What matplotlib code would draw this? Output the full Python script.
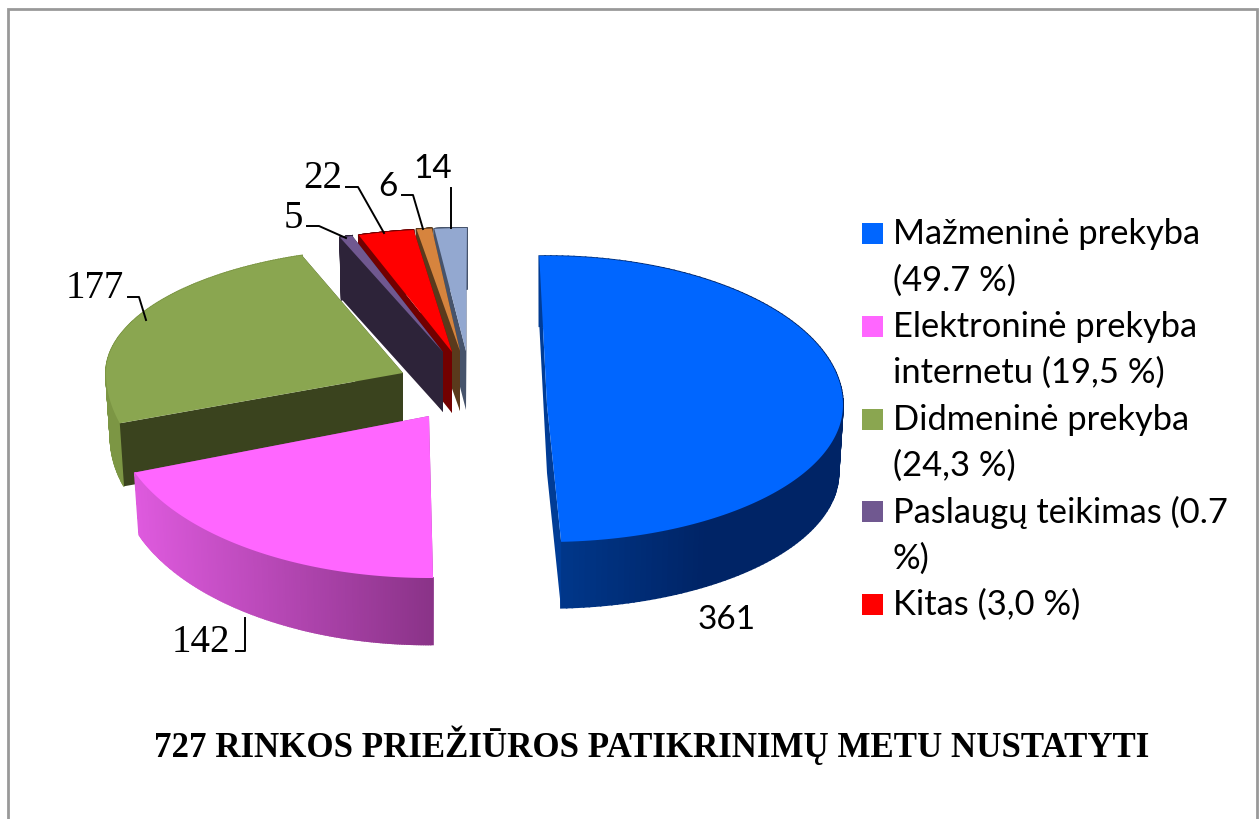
import matplotlib
matplotlib.use("Agg")
import matplotlib.pyplot as plt
import numpy as np

# chart data
slice_values = [361, 142, 177, 5, 22, 6, 14]
slice_labels = ["361", "142", "177", "5", "22", "6", "14"]
legend_lines = ["Mažmeninė prekyba", "(49.7 %)", "Elektroninė prekyba", "internetu (19,5 %)",
                "Didmeninė prekyba", "(24,3 %)", "Paslaugų teikimas (0.7", "%)", "Kitas (3,0 %)"]
title_text = "727 RINKOS PRIEŽIŪROS PATIKRINIMŲ METU NUSTATYTI"

# look of the slices
top_colors = ["#0066FF", "#FF66FF", "#8AA650", "#705890", "#FF0000", "#D6843E", "#93A8D0"]
face_colors = ["#003C96", "#A040A0", "#3A431E", "#2D2339", "#720000", "#5A3A1C", "#46536B"]
side_left = ["#003A90", "#DE5ADE", "#7C9644", "#2D2339", "#720000", "#5A3A1C", "#46536B"]
side_right = ["#002466", "#8A3388", "#7C9644", "#2D2339", "#720000", "#5A3A1C", "#46536B"]

# exploded pie layout, in pixels
apex_x = [547, 429, 403, 443, 452, 460, 466]
apex_y = [405, 416, 373, 352, 352, 351, 351]
radius_x = [296, 314, 297, 297, 297, 297, 270]
radius_back = [149, 140, 125, 122, 123, 123, 123]
radius_front = [137, 162, 167, 160, 160, 160, 160]
angle_shift = [-0.5, -2.5, -5.4, -5, -4.5, -3.5, -2.2]
depth = [68, 60, 64, 60, 61, 60, 59]
shrink_y = [0.985, 1.04, 0.98, 0.985, 0.985, 0.985, 0.985]
shrink_x = 0.985
draw_order = [2, 1, 6, 5, 4, 3, 0]
walls_over_faces = [False, True, False, False, False, False, False]
start_angle = 92

# legend swatches follow the first five slices
legend_rows = [0, None, 1, None, 2, None, 3, None, 4]


def rim(i, t):
    rad = np.radians(t)
    s = np.sin(rad)
    dy = np.where(s > 0, radius_back[i], radius_front[i]) * s
    return radius_x[i] * np.cos(rad), -dy


def draw_face(ax, i, t, z):
    dx, dy = rim(i, t)
    x0, y0 = apex_x[i], apex_y[i]
    ax.fill([x0, x0 + dx, x0 + dx * shrink_x, x0],
            [y0, y0 + dy, y0 + dy * shrink_y[i] + depth[i], y0 + depth[i]],
            color=face_colors[i], lw=0, zorder=z)


def mix(c1, c2, f):
    a = np.array(matplotlib.colors.to_rgb(c1))
    b = np.array(matplotlib.colors.to_rgb(c2))
    return a + (b - a) * f


def draw_wall(ax, i, dx, dy, z):
    # curved outer wall, a strip per step so the shading can run across it
    xmin, xmax = apex_x[i] + dx.min(), apex_x[i] + dx.max()
    for k in range(len(dx) - 1):
        f = ((apex_x[i] + dx[k]) - xmin) / max(xmax - xmin, 1)
        if i == 0:
            f = min(f / 0.55, 1)
        xs = apex_x[i] + np.array([dx[k], dx[k + 1], dx[k + 1] * shrink_x, dx[k] * shrink_x])
        ys = apex_y[i] + np.array([dy[k], dy[k + 1], dy[k + 1] * shrink_y[i] + depth[i], dy[k] * shrink_y[i] + depth[i]])
        ax.fill(xs, ys, color=mix(side_left[i], side_right[i], f), lw=1.2, zorder=z)


fig = plt.figure(figsize=(12.59, 8.19), dpi=100)
ax = fig.add_axes([0, 0, 1, 1])
ax.set_xlim(0, 1259)
ax.set_ylim(819, 0)
ax.axis("off")

# page frame
ax.plot([8.5, 8.5, 1257, 1257], [830, 8.5, 8.5, 830], color="#999999", lw=2, solid_joinstyle="miter")

sweeps = np.array(slice_values) / sum(slice_values) * 360
starts = start_angle - np.concatenate([[0], np.cumsum(sweeps)[:-1]])
z = 2
for i in draw_order:
    t0 = starts[i] + angle_shift[i]
    t1 = t0 - sweeps[i]
    ts = np.linspace(t0, t1, 160)
    dx, dy = rim(i, ts)
    if not walls_over_faces[i]:
        draw_wall(ax, i, dx, dy, z)
    draw_face(ax, i, t1, z + 1)
    draw_face(ax, i, t0, z + 2)
    if walls_over_faces[i]:
        draw_wall(ax, i, dx, dy, z + 3)
    ax.fill(np.r_[apex_x[i], apex_x[i] + dx], np.r_[apex_y[i], apex_y[i] + dy],
            color=top_colors[i], lw=0, zorder=z + 4)
    z += 5

# value labels and leader lines
serif = "Liberation Serif"
sans = "Lato"
label_xy = [(727, 620), (201, 643), (95, 288), (293, 218), (323, 179), (388, 187), (433, 169)]
label_font = [sans, serif, serif, serif, serif, sans, sans]
leaders = [None,
           [(236, 651), (245, 651), (245, 618)],
           [(128, 297), (139, 297), (146, 320)],
           [(307, 226), (319, 226), (346, 238)],
           [(346, 187), (358, 187), (384, 233)],
           [(402, 195), (413, 195), (423, 229)],
           [(451, 188), (451, 228)]]
for i, txt in enumerate(slice_labels):
    ax.text(label_xy[i][0], label_xy[i][1], txt, family=label_font[i], fontsize=28 if label_font[i] == serif else 24,
            ha="center", va="center", color="black", zorder=200)
    if leaders[i] is not None:
        ax.plot([p[0] for p in leaders[i]], [p[1] for p in leaders[i]], color="black", lw=1.4, zorder=200)

# legend
for row, txt in enumerate(legend_lines):
    y = 234 + row * 46.375
    ax.text(893, y, txt, family=sans, fontsize=24.8, ha="left", va="center", color="black", zorder=200)
    s = legend_rows[row]
    if s is not None:
        ax.fill([862, 883, 883, 862], [y - 11, y - 11, y + 10, y + 10], color=top_colors[s], lw=0, zorder=200)

ax.text(651.5, 745, title_text, family=serif, fontsize=25.1, fontweight="bold",
        ha="center", va="center", color="black", zorder=200)

fig.savefig("out.png", dpi=100)
